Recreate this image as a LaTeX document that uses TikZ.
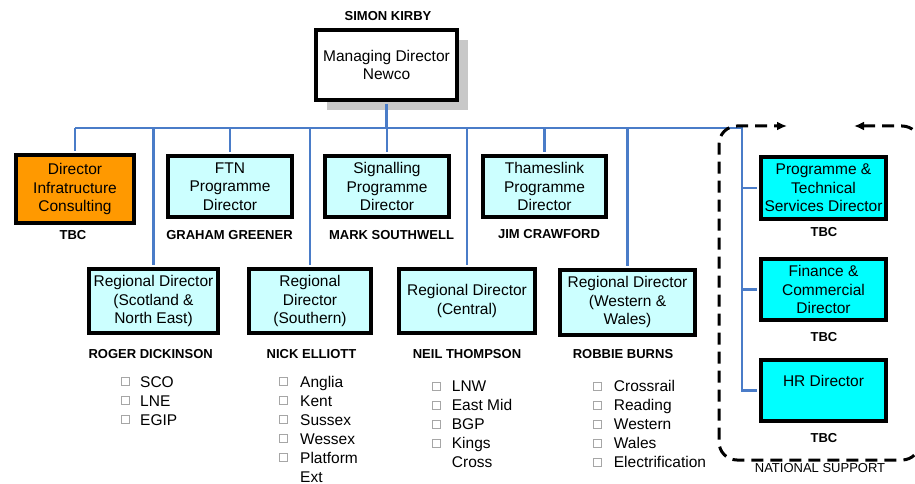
\documentclass[tikz,border=0pt]{standalone}
\usepackage{fontspec}
\setmainfont{Liberation Sans}
\usetikzlibrary{arrows.meta,shadows}

\definecolor{paleCyan}{HTML}{CCFFFF}
\definecolor{brightCyan}{HTML}{00FFFF}
\definecolor{consultOrange}{HTML}{FF9900}
\definecolor{linkBlue}{HTML}{4A7CC8}
\definecolor{shadowGray}{HTML}{C8C8C8}
\definecolor{bulletGray}{HTML}{A6A6A6}

\tikzset{
  role/.style={draw=black, line width=4pt, inner sep=0pt, align=center,
    font=\fontsize{15.5}{18.6}\selectfont},
  regional/.style={role, fill=paleCyan},
  national/.style={role, fill=brightCyan, minimum width=125pt},
  holder/.style={inner sep=0pt, font=\fontsize{13}{15}\selectfont\bfseries},
  item/.style={anchor=base west, inner sep=0pt, font=\fontsize{15.5}{19}\selectfont},
  tick/.style={draw=bulletGray, line width=0.7pt, minimum size=8pt, inner sep=0pt},
  link/.style={draw=linkBlue, line width=2.2pt},
  tolink/.style={link, shorten >=2pt},
}

\begin{document}
\begin{tikzpicture}[x=1pt,y=-1pt]
\useasboundingbox (0,0) rectangle (915,484);

% managing director
\node[holder] (mdName) at (388,16.5) {SIMON KIRBY};
\node[role, fill=white, minimum width=141pt, minimum height=70pt,
  drop shadow={shadow xshift=11pt, shadow yshift=-10pt, fill=shadowGray, opacity=1}]
  (md) at (386.5,65) {Managing Director\\Newco};

% programme directors
\node[role, fill=consultOrange, minimum width=118pt, minimum height=68pt]
  (infra) at (75,189) {Director\\Infratructure\\Consulting};
\node[regional, minimum width=124pt, minimum height=61pt]
  (ftn) at (230,186.5) {FTN\\Programme\\Director};
\node[regional, minimum width=124pt, minimum height=61pt]
  (sig) at (387,186.5) {Signalling\\Programme\\Director};
\node[regional, minimum width=123pt, minimum height=61pt]
  (tl) at (544.5,186.5) {Thameslink\\Programme\\Director};

\node[holder] (infraName) at (73,235) {TBC};
\node[holder] (ftnName) at (229.5,235) {GRAHAM GREENER};
\node[holder] (sigName) at (391.5,235) {MARK SOUTHWELL};
\node[holder] (tlName) at (549,234) {JIM CRAWFORD};

% regional directors
\node[regional, minimum width=129pt, minimum height=64pt]
  (scot) at (153.5,301) {Regional Director\\(Scotland \&\\North East)};
\node[regional, minimum width=122pt, minimum height=64pt]
  (south) at (310,301) {Regional\\Director\\(Southern)};
\node[regional, minimum width=136pt, minimum height=64pt]
  (central) at (467,301) {Regional Director\\(Central)};
\node[regional, minimum width=135pt, minimum height=65pt]
  (west) at (627.5,302) {Regional Director\\(Western \&\\Wales)};

\node[holder] (scotName) at (150.7,354) {ROGER DICKINSON};
\node[holder] (southName) at (311.5,354) {NICK ELLIOTT};
\node[holder] (centralName) at (467,354) {NEIL THOMPSON};
\node[holder] (westName) at (623,354) {ROBBIE BURNS};

% route lists
\foreach \t [count=\i] in {SCO,LNE,EGIP} {
  \node[tick] (scoTick\i) at (125,381.5+19*\i-19) {};
  \node[item] (sco\i) at (140,387+19*\i-19) {\t};
}
\foreach \t [count=\i] in {Anglia,Kent,Sussex,Wessex,Platform} {
  \node[tick] (souTick\i) at (283.3,381.5+19*\i-19) {};
  \node[item] (sou\i) at (300,387+19*\i-19) {\t};
}
\node[item] (sou6) at (300,482) {Ext};
\foreach \t [count=\i] in {LNW,East Mid,BGP,Kings} {
  \node[tick] (cenTick\i) at (436,386+19*\i-19) {};
  \node[item] (cen\i) at (451.7,391.5+19*\i-19) {\t};
}
\node[item] (cen5) at (451.7,467.5) {Cross};
\foreach \t [count=\i] in {Crossrail,Reading,Western,Wales,Electrification} {
  \node[tick] (wesTick\i) at (597.7,386+19*\i-19) {};
  \node[item] (wes\i) at (613.7,391.5+19*\i-19) {\t};
}

% national support
\node[national, minimum height=62pt] (pts) at (823.5,188)
  {Programme \&\\Technical\\Services Director};
\node[national, minimum height=61pt] (fin) at (823.5,289.5)
  {Finance \&\\Commercial\\Director};
\node[national, minimum height=61pt] (hr) at (823.5,390.5)
  {HR Director\\\mbox{}};
\node[holder] (ptsName) at (824,232) {TBC};
\node[holder] (finName) at (824,337) {TBC};
\node[holder] (hrName) at (824,438) {TBC};
\node[inner sep=0pt, font=\fontsize{13}{15}\selectfont] (natLabel) at (820,468)
  {NATIONAL SUPPORT};

% reporting lines
\coordinate (busL) at (75,128);
\coordinate (busR) at (742,128);
\draw[link, line width=3pt, shorten <=2pt] (md.south) -- (md.south |- busL);
\draw[tolink] (busL) -- (busR) -- (busR |- hr.west) -- (hr.west);
\draw[tolink] (busL) -- (infra.north);
\foreach \n in {ftn,sig,tl,scot,south,central,west}
  \draw[tolink] (\n.north |- busL) -- (\n.north);
\draw[tolink] (busR |- pts.west) -- (pts.west);
\draw[tolink] (busR |- fin.west) -- (fin.west);

% dashed boundary of the national support group
\draw[line width=3pt, dash pattern=on 12pt off 7pt, rounded corners=18pt,
  {Latex[length=10pt,width=9pt]}-{Latex[length=10pt,width=9pt]}]
  (854,126) -- (920,126) -- (920,460) -- (719,460) -- (719,126) -- (787,126);
\end{tikzpicture}
\end{document}
